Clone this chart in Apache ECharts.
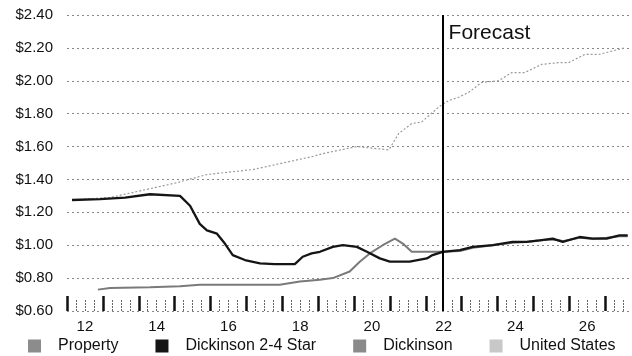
<!DOCTYPE html>
<html><head><meta charset="utf-8">
<script src="https://cdn.jsdelivr.net/npm/echarts@6/dist/echarts.min.js"></script>
<style>html,body{margin:0;padding:0;background:#fff}#c{width:632px;height:356px}</style>
</head><body><div id="c"></div>
<script>
// ---- data ----
const seriesNames = ['Property', 'Dickinson 2-4 Star', 'Dickinson', 'United States'];
const xTickLabels = ['12', '14', '16', '18', '20', '22', '24', '26'];
const forecastStart = 2022.47;

const propertyX = [];
const propertyY = [];

const star24X = [2012.14, 2012.92, 2013.62, 2014.31, 2015.15, 2015.43, 2015.70, 2015.90, 2016.18, 2016.40, 2016.62, 2016.96, 2017.38, 2017.79, 2018.35, 2018.57, 2018.82, 2019.05, 2019.41, 2019.69, 2020.08, 2020.36, 2020.72, 2021.00, 2021.55, 2022.03, 2022.19, 2022.47, 2022.95, 2023.31, 2023.87, 2024.42, 2024.81, 2025.18, 2025.54, 2025.82, 2026.29, 2026.65, 2027.04, 2027.40, 2027.63];
const star24Y = [1.275, 1.28, 1.29, 1.31, 1.30, 1.24, 1.13, 1.09, 1.07, 1.01, 0.94, 0.91, 0.89, 0.885, 0.885, 0.93, 0.95, 0.96, 0.99, 1.00, 0.99, 0.96, 0.92, 0.90, 0.90, 0.92, 0.94, 0.96, 0.97, 0.99, 1.00, 1.02, 1.02, 1.03, 1.04, 1.02, 1.05, 1.04, 1.04, 1.06, 1.06];

const dickX = [2012.86, 2013.20, 2014.31, 2015.15, 2015.70, 2017.10, 2017.93, 2018.49, 2019.05, 2019.41, 2019.88, 2020.16, 2020.44, 2020.80, 2021.14, 2021.36, 2021.61, 2022.03, 2022.47, 2022.95, 2023.31, 2023.87, 2024.42, 2024.81, 2025.18, 2025.54, 2025.82, 2026.29, 2026.65, 2027.04, 2027.40, 2027.63];
const dickY = [0.73, 0.74, 0.745, 0.75, 0.76, 0.76, 0.76, 0.78, 0.79, 0.80, 0.84, 0.90, 0.95, 1.00, 1.04, 1.01, 0.96, 0.96, 0.96, 0.965, 0.985, 1.00, 1.015, 1.02, 1.03, 1.035, 1.025, 1.045, 1.04, 1.045, 1.055, 1.055];

const usX = [2012.14, 2013.20, 2015.06, 2015.90, 2017.18, 2018.85, 2019.19, 2020.08, 2020.97, 2021.25, 2021.61, 2021.89, 2022.36, 2022.64, 2022.92, 2023.20, 2023.56, 2024.03, 2024.40, 2024.76, 2025.23, 2025.70, 2025.98, 2026.43, 2026.82, 2027.18, 2027.54];
const usY = [1.275, 1.29, 1.38, 1.43, 1.46, 1.54, 1.56, 1.60, 1.58, 1.68, 1.74, 1.75, 1.84, 1.88, 1.90, 1.93, 1.99, 2.00, 2.05, 2.05, 2.10, 2.11, 2.11, 2.16, 2.16, 2.18, 2.20];

const colors = ['#8c8c8c', '#151515', '#8a8a8a', '#c8c8c8'];

function pairs(xs, ys) { return xs.map((x, i) => [x, ys[i]]); }

const chart = echarts.init(document.getElementById('c'), null, { renderer: 'canvas' });
const FONT = 'Liberation Sans, Arial, sans-serif';

chart.setOption({
  animation: false,
  backgroundColor: '#fff',
  grid: { left: 67, width: 574, top: 15, height: 296, containLabel: false, outerBoundsMode: 'none' },
  legend: {
    data: seriesNames,
    left: 23, top: 333,
    icon: 'rect', itemWidth: 13, itemHeight: 13, itemGap: 37,
    textStyle: { fontFamily: FONT, fontSize: 16, color: '#111', padding: [0, 0, 0, 12] }
  },
  xAxis: [
    {
      type: 'value', min: 2012, max: 2028, interval: 0.5, position: 'bottom',
      axisLine: { show: false }, axisTick: { show: false }, splitLine: { show: false },
      axisLabel: {
        margin: 8, fontFamily: FONT, fontSize: 15, color: '#111',
        formatter: function (v) {
          const y = Math.floor(v);
          if (Math.abs(v - y - 0.5) < 1e-6) {
            const idx = (y - 2012) / 2;
            if (Number.isInteger(idx) && idx >= 0 && idx < xTickLabels.length) return xTickLabels[idx];
          }
          return '';
        }
      }
    },
    {
      type: 'value', min: 2012, max: 2028, interval: 1, position: 'bottom',
      axisLine: { show: false }, splitLine: { show: false },
      axisLabel: { show: false },
      axisTick: { show: true, inside: true, length: 15, lineStyle: { color: '#111', width: 2.5 } },
      minorTick: { show: true, splitNumber: 4, length: 12, lineStyle: { color: '#666', width: 1, type: [2, 1] } }
    }
  ],
  yAxis: {
    type: 'value', min: 0.6, max: 2.4, interval: 0.2,
    axisLine: { show: false }, axisTick: { show: false },
    axisLabel: { margin: 14, fontFamily: FONT, fontSize: 15, color: '#111', formatter: v => '$' + v.toFixed(2) },
    splitLine: { show: true, lineStyle: { color: '#888', type: [2, 3], width: 1 } }
  },
  series: [
    { name: seriesNames[0], type: 'line', data: pairs(propertyX, propertyY), showSymbol: false,
      itemStyle: { color: colors[0] }, lineStyle: { color: colors[0], width: 1.5 } },
    { name: seriesNames[3], type: 'line', data: pairs(usX, usY), showSymbol: false, z: 2,
      itemStyle: { color: colors[3] }, lineStyle: { color: '#9a9a9a', width: 1.2, type: [2, 2] } },
    { name: seriesNames[2], type: 'line', data: pairs(dickX, dickY), showSymbol: false, z: 3,
      itemStyle: { color: colors[2] }, lineStyle: { color: '#7a7a7a', width: 2 } },
    { name: seriesNames[1], type: 'line', data: pairs(star24X, star24Y), showSymbol: false, z: 4,
      itemStyle: { color: colors[1] }, lineStyle: { color: colors[1], width: 2.3 },
      markLine: {
        silent: true, symbol: 'none',
        lineStyle: { color: '#000', width: 2, type: 'solid' },
        label: { show: false },
        data: [{ xAxis: forecastStart }]
      },
      markPoint: {
        silent: true, symbol: 'circle', symbolSize: 0,
        label: { show: true, position: 'right', distance: 6, formatter: 'Forecast',
          fontFamily: FONT, fontSize: 21, color: '#111' },
        data: [{ coord: [forecastStart, 2.29] }]
      }
    }
  ]
});
</script>
</body></html>
